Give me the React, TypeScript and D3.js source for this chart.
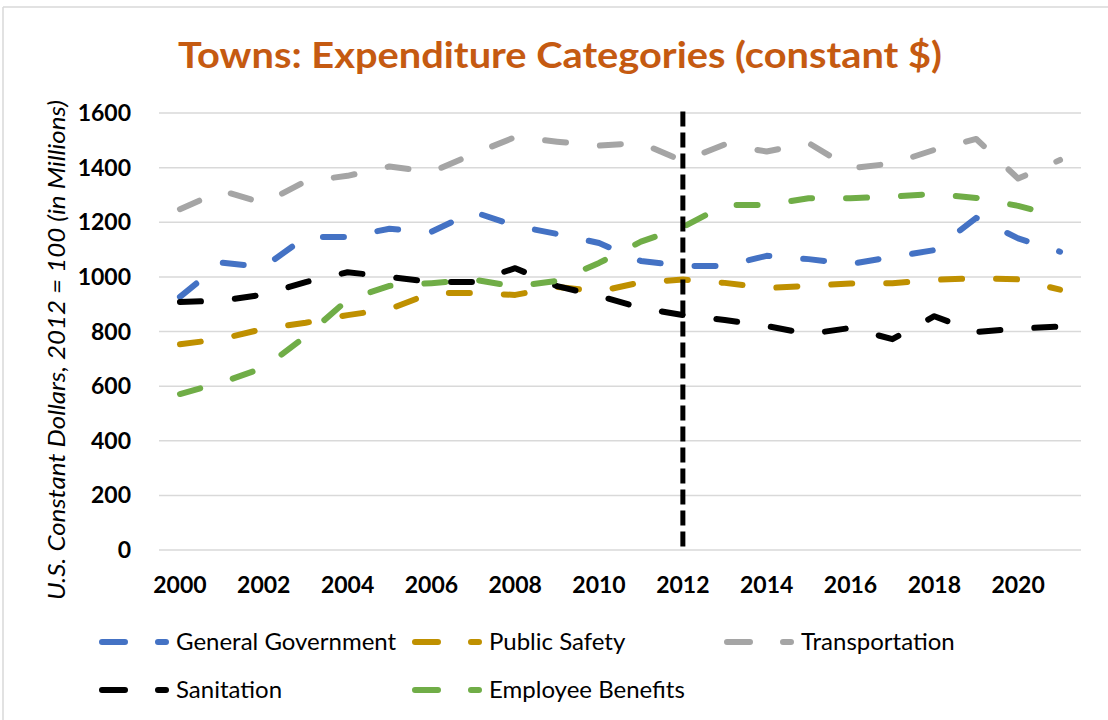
import * as d3 from "d3";

const years = [
  2000, 2001, 2002, 2003, 2004, 2005, 2006, 2007, 2008, 2009, 2010,
  2011, 2012, 2013, 2014, 2015, 2016, 2017, 2018, 2019, 2020, 2021,
];

const generalGovernment = [
  927, 1052, 1036, 1146, 1146, 1176, 1165, 1238, 1187, 1157, 1124,
  1058, 1040, 1040, 1077, 1065, 1047, 1073, 1098, 1216, 1141, 1092,
];
const publicSafety = [
  753, 773, 810, 832, 860, 882, 941, 941, 934, 963, 947,
  980, 990, 978, 959, 967, 976, 977, 989, 995, 991, 953,
];
const transportation = [
  1248, 1315, 1270, 1350, 1370, 1404, 1384, 1450, 1512, 1495, 1481,
  1490, 1424, 1485, 1459, 1490, 1398, 1415, 1465, 1505, 1360, 1428,
];
const sanitation = [
  908, 913, 935, 981, 1017, 1000, 981, 981, 1032, 966, 930,
  886, 860, 842, 820, 791, 813, 772, 856, 798, 811, 818,
];
const employeeBenefits = [
  571, 614, 667, 782, 916, 967, 977, 990, 965, 985, 1051,
  1129, 1182, 1263, 1263, 1288, 1288, 1294, 1304, 1289, 1260, 1220,
];

const yTicks = [0, 200, 400, 600, 800, 1000, 1200, 1400, 1600];
const xTickYears = [2000, 2002, 2004, 2006, 2008, 2010, 2012, 2014, 2016, 2018, 2020];
const markerYear = 2012;

const title = "Towns: Expenditure Categories (constant $)";
const yTitle = "U.S. Constant Dollars, 2012 = 100 (in Millions)";

const series = [
  { name: "General Government", values: generalGovernment, color: "#4472C4" },
  { name: "Public Safety", values: publicSafety, color: "#BF9000" },
  { name: "Transportation", values: transportation, color: "#A5A5A5" },
  { name: "Sanitation", values: sanitation, color: "#000000" },
  { name: "Employee Benefits", values: employeeBenefits, color: "#70AD47" },
];

const width = 1108;
const height = 720;
const plot = { left: 159, right: 1081, top: 113, bottom: 550 };
const font = "Lato, 'Open Sans', sans-serif";

export default function App() {
  const x = d3
    .scalePoint<number>()
    .domain(years)
    .range([plot.left, plot.right])
    .padding(0.5);
  const y = d3.scaleLinear().domain([0, 1600]).range([plot.bottom, plot.top]);

  const line = d3
    .line<number>()
    .x((_, i) => x(years[i])!)
    .y((d) => y(d));

  // legend layout: 3 columns, 2 rows
  const legendCols = [99, 412, 724];
  const legendRows = [642, 690];

  return (
    <svg
      width={width}
      height={height}
      style={{ position: "absolute", left: 0, top: 0, background: "#fff" }}
    >
      {/* chart frame, only top/left edges visible */}
      <line x1={3} y1={7} x2={width} y2={7} stroke="#d9d9d9" strokeWidth={1.5} />
      <line x1={3} y1={7} x2={3} y2={height} stroke="#d9d9d9" strokeWidth={1.5} />

      <text
        x={560}
        y={68}
        textAnchor="middle"
        fontFamily={font}
        fontWeight="bold"
        fontSize={37}
        fill="#C55A11"
        textLength={764}
        lengthAdjust="spacingAndGlyphs"
      >
        {title}
      </text>

      {/* gridlines */}
      {yTicks.map((t) => (
        <line
          key={t}
          x1={plot.left}
          x2={plot.right}
          y1={y(t)}
          y2={y(t)}
          stroke="#d9d9d9"
          strokeWidth={1.5}
        />
      ))}

      {/* y tick labels */}
      {yTicks.map((t) => (
        <text
          key={t}
          x={131}
          y={y(t)}
          dy="0.35em"
          textAnchor="end"
          fontFamily={font}
          fontWeight="bold"
          fontSize={23}
          fill="#000"
        >
          {t}
        </text>
      ))}

      {/* x tick labels */}
      {xTickYears.map((yr) => (
        <text
          key={yr}
          x={x(yr)}
          y={593}
          textAnchor="middle"
          fontFamily={font}
          fontWeight="bold"
          fontSize={23}
          fill="#000"
        >
          {yr}
        </text>
      ))}

      <text
        transform={`translate(65, 350) rotate(-90)`}
        textAnchor="middle"
        fontFamily={font}
        fontStyle="italic"
        fontSize={23}
        fill="#000"
        textLength={500}
        lengthAdjust="spacingAndGlyphs"
      >
        {yTitle}
      </text>

      {/* series lines */}
      {series.map((s) => (
        <path
          key={s.name}
          d={line(s.values)!}
          fill="none"
          stroke={s.color}
          strokeWidth={6}
          strokeDasharray="21 34"
          strokeLinecap="round"
          strokeLinejoin="round"
        />
      ))}

      {/* 2012 marker */}
      <line
        x1={x(markerYear)}
        x2={x(markerYear)}
        y1={y(1600) - 1.5}
        y2={y(0)}
        stroke="#000"
        strokeWidth={5}
        strokeDasharray="15 6"
      />

      {/* legend */}
      {series.map((s, i) => {
        const lx = legendCols[i < 3 ? i : i - 3];
        const ly = legendRows[i < 3 ? 0 : 1];
        return (
          <g key={s.name}>
            <line
              x1={lx + 3}
              x2={lx + 67}
              y1={ly}
              y2={ly}
              stroke={s.color}
              strokeWidth={6}
              strokeDasharray="23 33"
              strokeLinecap="round"
            />
            <text
              x={lx + 77}
              y={ly}
              dy="0.35em"
              fontFamily={font}
              fontSize={24}
              fill="#000"
            >
              {s.name}
            </text>
          </g>
        );
      })}
    </svg>
  );
}
